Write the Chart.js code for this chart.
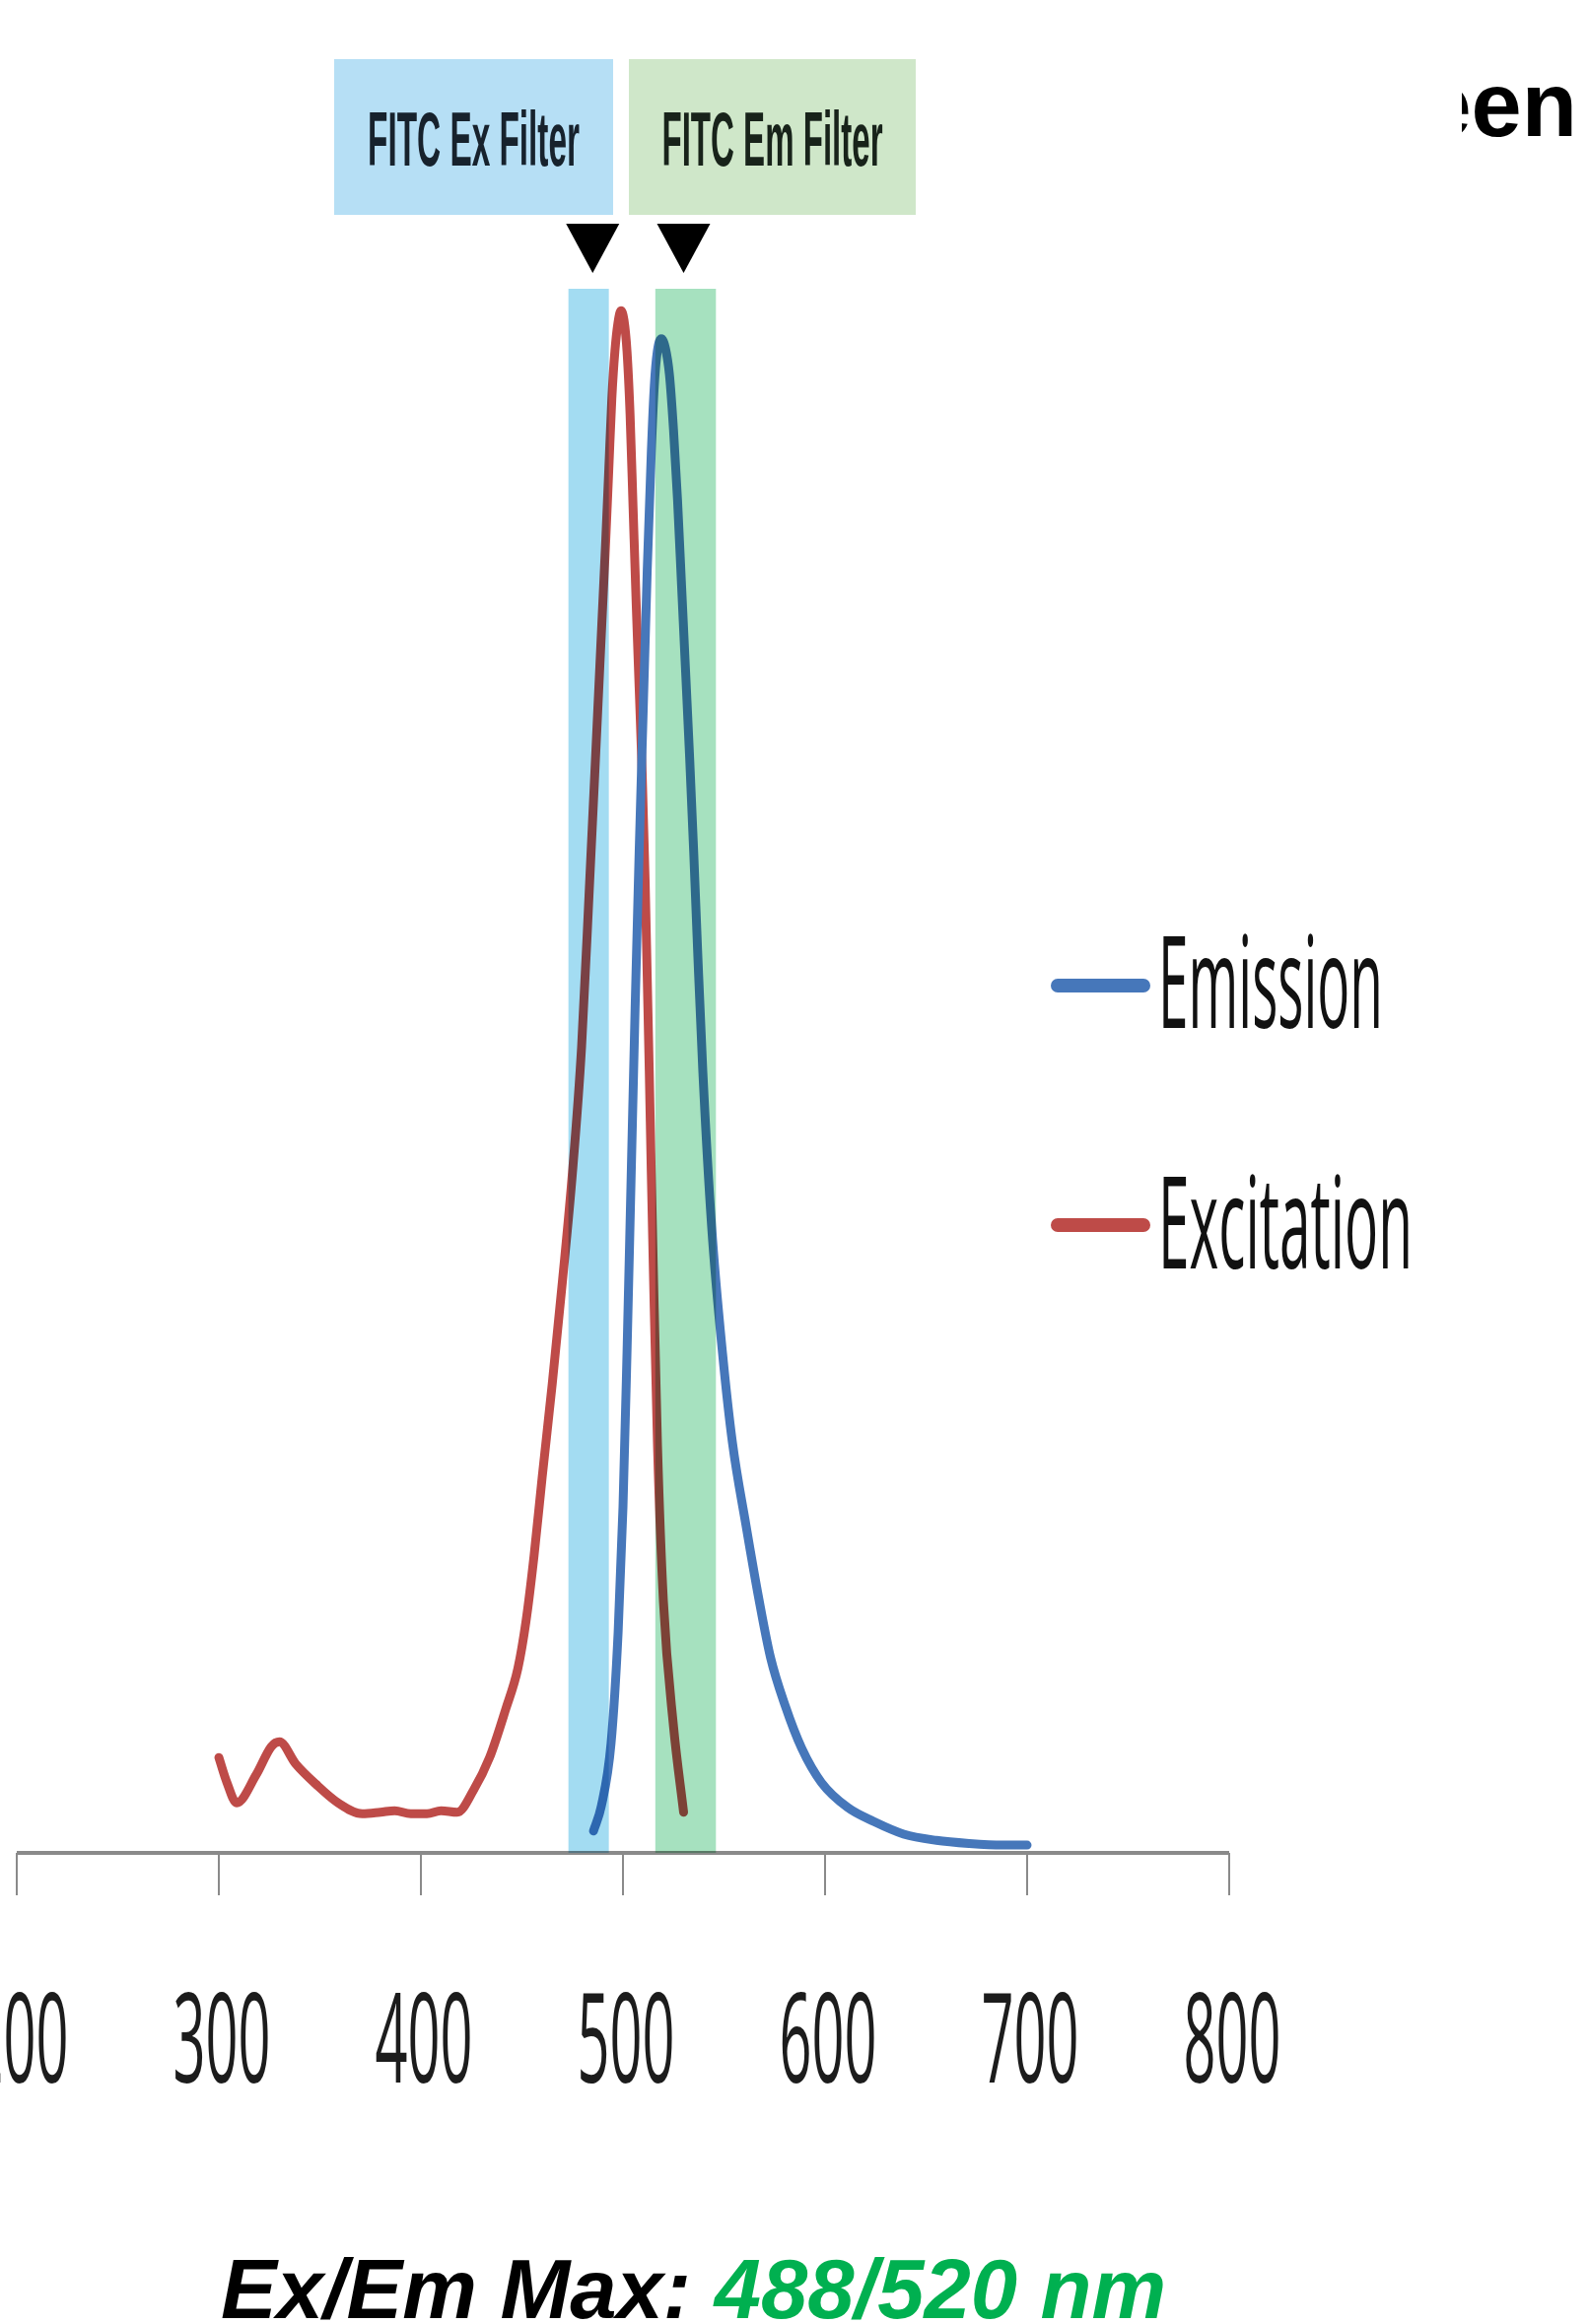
<!DOCTYPE html>
<html>
<head>
<meta charset="utf-8">
<title>FITC spectra</title>
<script src="https://cdn.jsdelivr.net/npm/chart.js@4.4.1/dist/chart.umd.min.js"></script>
<style>
  html, body { margin: 0; padding: 0; background: #fff; }
  #wrap { position: relative; width: 1611px; height: 2358px; overflow: hidden; }
  #chartBox { position: absolute; left: 0; top: 0; width: 1611px; height: 2358px; }
  .cut { position: absolute; left: 1483px; top: 60px; width: 117px; height: 110px; overflow: hidden; }
  .cut span { position: absolute; right: 0; top: 0; white-space: nowrap;
    font: bold 92px/92px "Liberation Sans", Arial, sans-serif; color: #000; }
  .caption { position: absolute; left: 224px; top: 2280px; white-space: nowrap;
    font: italic bold 85px/85px "Liberation Sans", Arial, sans-serif; color: #000; }
  .caption .max { color: #00b050; }
</style>
</head>
<body>
<div id="wrap">
  <div id="chartBox"><canvas id="spectraChart"></canvas></div>
  <div class="cut"><span>Green</span></div>
  <div class="caption">Ex/Em Max: <span class="max">488/520 nm</span></div>
</div>

<script>
/* ---- data (wavelength in nm, relative intensity) ---- */
const WAVELENGTH_TICKS = [200, 300, 400, 500, 600, 700, 800];

const SERIES_NAMES = ['Emission', 'Excitation'];

const EM_NM  = [485.4, 489.3, 494.1, 497.6, 500, 502, 504, 506, 508, 510, 512, 514, 515.5, 517, 519,
                521, 523, 525, 527, 529, 531, 533, 535, 537, 539.5, 543.9, 549.3, 554.2, 560.8, 567.3, 573,
                580.3, 588.4, 598.2, 611.2, 624.2, 638.9, 655.1, 671.4, 687.7, 700];
const EM_VAL = [0.014, 0.030, 0.070, 0.141, 0.221, 0.320, 0.430, 0.540, 0.640, 0.730, 0.820, 0.895, 0.938, 0.960, 0.968,
                0.962, 0.945, 0.910, 0.865, 0.810, 0.755, 0.700, 0.640, 0.575, 0.500, 0.400, 0.319, 0.262, 0.210, 0.162, 0.125,
                0.094, 0.067, 0.045, 0.029, 0.020, 0.012, 0.008, 0.006, 0.005, 0.005];

const EX_NM  = [300, 304, 308.8, 318.5, 326, 330, 338, 348, 359, 371, 380, 387, 395, 403, 410, 418, 426, 434, 442, 448,
                452, 456, 460, 465, 470, 475, 479.5, 483.4, 485.5, 487.5, 489.5, 491.5, 493, 494.5, 496, 497.5, 499, 500.5,
                502, 503.5, 505, 506.5, 508, 509.5, 511, 512, 513, 514, 515, 517.1, 520, 525, 530];
const EX_VAL = [0.061, 0.045, 0.032, 0.050, 0.068, 0.071, 0.057, 0.044, 0.032, 0.025, 0.026, 0.027, 0.025, 0.025, 0.027, 0.026,
                0.040, 0.061, 0.092, 0.118, 0.148, 0.190, 0.240, 0.300, 0.365, 0.435, 0.515, 0.618, 0.675, 0.730, 0.785,
                0.840, 0.885, 0.930, 0.960, 0.978, 0.986, 0.980, 0.960, 0.920, 0.860, 0.800, 0.745, 0.690, 0.620, 0.560,
                0.500, 0.435, 0.375, 0.260, 0.161, 0.081, 0.026];

const FILTER_NAMES    = ['FITC Ex Filter', 'FITC Em Filter'];
const FILTER_BANDS_NM = [[473, 493], [516, 546]];
const FILTER_MARKS_NM = [485, 530];

/* ---- styling ---- */
const SERIES_COLORS = ['#4677ba', '#be4b48'];
const BAND_COLORS   = ['#a3dcf2', '#a6e1bf'];
const BOXES = [
  { x: 339, w: 283, fill: '#b6dff5', text: '#17222d', tw: 215 },
  { x: 638, w: 291, fill: '#cfe7c9', text: '#18231a', tw: 224 },
];

function toPoints(xs, ys) { return xs.map((x, i) => ({ x, y: ys[i] })); }

// draws text squeezed to a given width (the source art is horizontally compressed)
function fitText(ctx, text, x, y, width, font, align) {
  ctx.font = font;
  const w = ctx.measureText(text).width;
  ctx.save();
  ctx.translate(x, y);
  ctx.scale(width / w, 1);
  ctx.textAlign = align;
  ctx.textBaseline = 'alphabetic';
  ctx.fillText(text, 0, 0);
  ctx.restore();
}

const spectraDecor = {
  id: 'spectraDecor',
  beforeDatasetsDraw(chart) {
    const { ctx, chartArea: a, scales: { x } } = chart;
    ctx.save();
    // x axis line + tick marks
    ctx.strokeStyle = '#8a8a8a';
    ctx.lineWidth = 4;
    ctx.beginPath();
    ctx.moveTo(x.getPixelForValue(WAVELENGTH_TICKS[0]), a.bottom);
    ctx.lineTo(x.getPixelForValue(WAVELENGTH_TICKS[WAVELENGTH_TICKS.length - 1]), a.bottom);
    ctx.stroke();
    ctx.lineWidth = 2;
    WAVELENGTH_TICKS.forEach(t => {
      const px = x.getPixelForValue(t);
      ctx.beginPath();
      ctx.moveTo(px, a.bottom);
      ctx.lineTo(px, a.bottom + 43);
      ctx.stroke();
    });
    ctx.restore();
  },
  afterDatasetsDraw(chart) {
    const { ctx, chartArea: a, scales: { x } } = chart;
    ctx.save();
    ctx.globalCompositeOperation = 'multiply';
    FILTER_BANDS_NM.forEach(([lo, hi], i) => {
      const x0 = x.getPixelForValue(lo), x1 = x.getPixelForValue(hi);
      ctx.fillStyle = BAND_COLORS[i];
      ctx.fillRect(x0, a.top, x1 - x0, a.bottom - a.top);
    });
    ctx.restore();
  },
  afterDraw(chart) {
    const { ctx, chartArea: a, scales: { x } } = chart;
    ctx.save();

    // tick labels
    ctx.fillStyle = '#1c1c1c';
    WAVELENGTH_TICKS.forEach(t => {
      fitText(ctx, String(t), x.getPixelForValue(t) + 3, a.bottom + 233, 99, '400 126px "Open Sans"', 'center');
    });

    // filter label boxes
    BOXES.forEach((b, i) => {
      ctx.fillStyle = b.fill;
      ctx.fillRect(b.x, 60, b.w, 158);
      ctx.fillStyle = b.text;
      fitText(ctx, FILTER_NAMES[i], b.x + b.w / 2, 168, b.tw, 'bold 78px "Liberation Sans"', 'center');
    });

    // markers above the filter bands
    ctx.fillStyle = '#000';
    FILTER_MARKS_NM.forEach(nm => {
      const px = x.getPixelForValue(nm);
      ctx.beginPath();
      ctx.moveTo(px - 27, 227);
      ctx.lineTo(px + 27, 227);
      ctx.lineTo(px, 277);
      ctx.closePath();
      ctx.fill();
    });

    // legend
    const rows = [{ y: 1000, base: 1043, w: 228 }, { y: 1243, base: 1287, w: 258 }];
    chart.data.datasets.forEach((ds, i) => {
      const r = rows[i];
      ctx.strokeStyle = ds.borderColor;
      ctx.lineWidth = 14;
      ctx.lineCap = 'round';
      ctx.beginPath();
      ctx.moveTo(1073, r.y);
      ctx.lineTo(1160, r.y);
      ctx.stroke();
      ctx.fillStyle = '#111';
      fitText(ctx, ds.label, 1175, r.base, r.w, '400 130px "Open Sans"', 'left');
    });

    ctx.restore();
  }
};

const chart = new Chart(document.getElementById('spectraChart'), {
  type: 'line',
  data: {
    datasets: [
      { label: SERIES_NAMES[0], data: toPoints(EM_NM, EM_VAL), borderColor: SERIES_COLORS[0] },
      { label: SERIES_NAMES[1], data: toPoints(EX_NM, EX_VAL), borderColor: SERIES_COLORS[1] },
    ],
  },
  options: {
    responsive: true,
    maintainAspectRatio: false,
    animation: false,
    devicePixelRatio: 1,
    layout: { padding: { left: 17, right: 364, top: 293, bottom: 478 } },
    elements: {
      line: { borderWidth: 9, cubicInterpolationMode: 'monotone', borderCapStyle: 'round', borderJoinStyle: 'round', fill: false },
      point: { radius: 0, hoverRadius: 0 },
    },
    scales: {
      x: { type: 'linear', min: 200, max: 800, display: false },
      y: { min: 0, max: 1, display: false },
    },
    plugins: { legend: { display: false }, tooltip: { enabled: false } },
  },
  plugins: [spectraDecor],
});
</script>
</body>
</html>
